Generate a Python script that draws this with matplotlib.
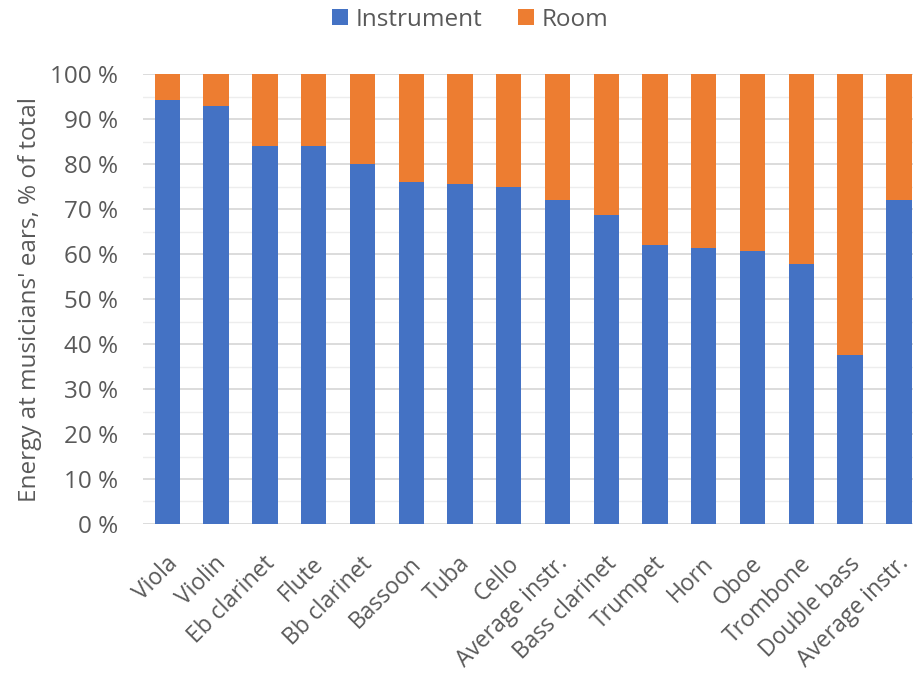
import matplotlib
matplotlib.use("Agg")
import matplotlib.pyplot as plt
import matplotlib.transforms as mtransforms
import numpy as np

categories = ["Viola", "Violin", "Eb clarinet", "Flute", "Bb clarinet", "Bassoon", "Tuba",
              "Cello", "Average instr.", "Bass clarinet", "Trumpet", "Horn", "Oboe",
              "Trombone", "Double bass", "Average instr."]
instrument = [94.3, 92.9, 84.1, 84.1, 80.1, 76.1, 75.7, 75.0, 72.1, 68.6, 62.1, 61.4, 60.6,
              57.7, 37.5, 72.0]
room = [100 - v for v in instrument]
yticks = list(range(0, 101, 10))
ytick_labels = [f"{t} %" for t in yticks]

plt.rcParams['font.family'] = ['Open Sans', 'DejaVu Sans']
grey = "#595959"
fs = 17.5

fig = plt.figure(figsize=(9.13, 6.74), dpi=100)
ax = fig.add_axes([0.1566, 0.2226, 0.8434, 0.6672])

x = np.arange(len(categories))
w = 0.52
ax.bar(x, instrument, w, color="#4472C4", label="Instrument", zorder=3)
ax.bar(x, room, w, bottom=instrument, color="#ED7D31", label="Room", zorder=3)

ax.set_ylim(0, 100)
ax.set_xlim(-0.5, 15.29)
ax.set_yticks(yticks)
ax.set_yticklabels(ytick_labels, fontsize=fs, color=grey)
ax.set_yticks(np.arange(5, 100, 10), minor=True)
ax.grid(axis='y', which='major', color="#D9D9D9", linewidth=1.3, zorder=0)
ax.grid(axis='y', which='minor', color="#EDEDED", linewidth=1.0, zorder=0)
ax.tick_params(axis='both', which='both', length=0)
ax.tick_params(axis='y', pad=18)
ax.set_xticks(x)
ax.set_xticklabels(categories, rotation=45, ha='right', rotation_mode='anchor',
                   fontsize=16.5, color=grey)
ax.tick_params(axis='x', pad=20)
offset = mtransforms.ScaledTranslation(-2 / 100, 0, fig.dpi_scale_trans)
for lab in ax.get_xticklabels():
    lab.set_transform(lab.get_transform() + offset)
for s in ax.spines.values():
    s.set_visible(False)

ax.set_ylabel("Energy at musicians' ears, % of total", fontsize=fs, color=grey, labelpad=6)

ax.legend(loc='upper center', bbox_to_anchor=(0.515, 1.003),
          bbox_transform=fig.transFigure, ncol=2, frameon=False, fontsize=fs,
          labelcolor=grey, handlelength=0.65, handleheight=0.65, handletextpad=0.3,
          columnspacing=1.5, borderaxespad=0.0)

fig.savefig("out.png", dpi=100)
